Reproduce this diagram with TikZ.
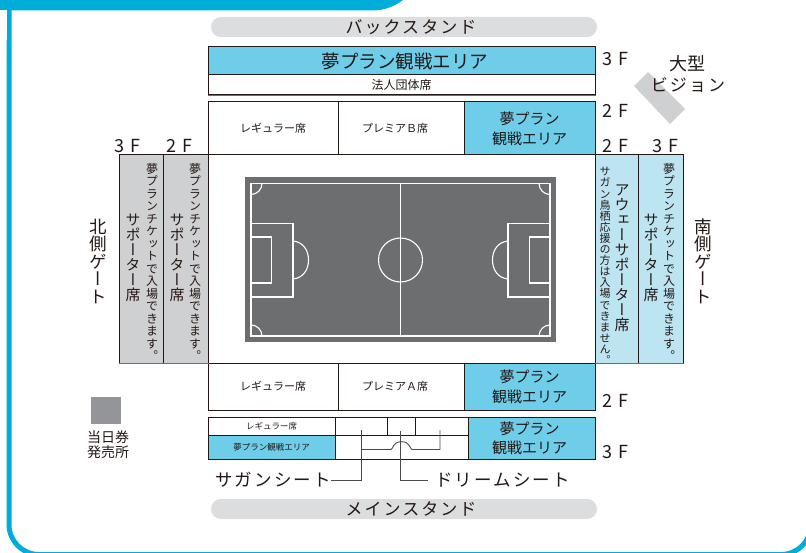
\documentclass[tikz,border=0pt]{standalone}
\usepackage{fontspec}
\setmainfont{Noto Sans CJK JP}
\newfontfamily\vfont[RawFeature=+vert]{Noto Sans CJK JP}
\newfontfamily\wfont[LetterSpace=12]{Noto Sans CJK JP}
\newcommand\fs[1]{\fontsize{#1pt}{#1pt}\selectfont}
\def\vloop#1{\ifx#1\relax\else\hbox to 1em{\hss #1\hss}\expandafter\vloop\fi}
\newcommand\vtext[3]{\vbox{\fs{#1}\vfont\baselineskip=#2pt\lineskiplimit=-100pt\relax\vloop#3\relax}}
\definecolor{ink}{HTML}{231815}
\definecolor{frame}{HTML}{00ADD8}
\definecolor{plan}{HTML}{6ECDE9}
\definecolor{away}{HTML}{BDE4F1}
\definecolor{stand}{HTML}{CFD0D2}
\definecolor{pill}{HTML}{DCDDDE}
\definecolor{pitch}{HTML}{6D6E70}
\definecolor{booth}{HTML}{939598}
\definecolor{wire}{HTML}{4A4A4A}
\tikzset{
  seat/.style={draw=ink,line width=1pt,inner sep=0pt,align=center,text=ink},
  label/.style={inner sep=0pt,align=center,text=ink},
  fline/.style={draw=white,line width=1.1pt},
  wireline/.style={draw=wire,line width=.9pt},
  edgeline/.style={draw=pitch,line width=1.6pt},
}
\begin{document}
\begin{tikzpicture}[x=1pt,y=-1pt,font=\fs{12}]
\useasboundingbox (0,0) rectangle (806,553);
\begin{scope}
\clip (0,0) rectangle (806,553);
\draw[frame,line width=5pt,rounded corners=30pt] (9,-40) -- (9,554.5) -- (811,554.5) -- (811,-40);
\fill[frame] (0,0) -- (403,0) .. controls (395,6) and (385,10.5) .. (372,10.5) -- (0,10.5) -- cycle;
\fill[white] (0,10.5) rectangle (6.5,40);
\end{scope}
% stand pills
\node[fill=pill,rounded corners=10pt,minimum width=386pt,minimum height=20pt,inner sep=0pt] (back) at (404,27) {};
\node[label] (backt) at (411,27) {\fs{17}\wfont バックスタンド};
\node[fill=pill,rounded corners=10pt,minimum width=386pt,minimum height=20pt,inner sep=0pt] (main) at (404,509) {};
\node[label] (maint) at (411,509) {\fs{17}\wfont メインスタンド};
% back stand 3F
\node[seat,fill=plan,minimum width=387pt,minimum height=28pt] (b3p) at (401.5,61) {\hspace*{7pt}\fs{18.5}夢プラン観戦エリア};
\node[seat,minimum width=387pt,minimum height=20pt] (b3h) at (401.5,85) {\fs{12}法人団体席};
\draw[edgeline] (b3h.south west) -- (b3h.south east);
% back stand 2F
\node[seat,minimum width=130pt,minimum height=53pt] (b2r) at (273,128.5) {\fs{11}レギュラー席};
\node[seat,minimum width=126pt,minimum height=53pt] (b2p) at (401,128.5) {\hspace*{-12pt}\fs{11}プレミアＢ席};
\node[seat,fill=plan,minimum width=131pt,minimum height=53pt] (b2y) at (529.5,128.5) {\fs{15}夢プラン\\[5pt]\fs{15}観戦エリア};
% centre box
\node[seat,minimum width=387pt,minimum height=208pt] (bowl) at (401.5,259) {};
% main stand 2F
\node[seat,minimum width=130pt,minimum height=47pt] (m2r) at (273,386.5) {\fs{11}レギュラー席};
\node[seat,minimum width=126pt,minimum height=47pt] (m2p) at (401,386.5) {\hspace*{-12pt}\fs{11}プレミアＡ席};
\node[seat,fill=plan,minimum width=131pt,minimum height=47pt] (m2y) at (529.5,386.5) {\fs{15}夢プラン\\[5pt]\fs{15}観戦エリア};
% main stand 3F
\node[seat,minimum width=127pt,minimum height=18pt] (m3r) at (271.5,426) {\fs{8.5}レギュラー席};
\node[seat,fill=plan,minimum width=127pt,minimum height=24pt] (m3p) at (271.5,447) {\fs{8.5}夢プラン観戦エリア};
\node[seat,minimum width=52pt,minimum height=18pt] (m3a) at (361,426) {};
\node[seat,minimum width=28pt,minimum height=18pt] (m3b) at (401,426) {};
\node[seat,minimum width=53pt,minimum height=18pt] (m3c) at (441.5,426) {};
\node[seat,minimum width=133pt,minimum height=24pt] (m3d) at (401.5,447) {};
\node[seat,fill=plan,minimum width=127pt,minimum height=42pt] (m3y) at (531.5,438) {\hspace*{-4pt}\fs{15}夢プラン\\[4pt]\hspace*{-4pt}\fs{15}観戦エリア};
% side stands
\node[seat,fill=stand,minimum width=44pt,minimum height=208pt] (n3) at (141,259) {};
\node[seat,fill=stand,minimum width=45pt,minimum height=208pt] (n2) at (185.5,259) {};
\node[seat,fill=away,minimum width=43pt,minimum height=208pt] (s2) at (616.5,259) {};
\node[seat,fill=away,minimum width=45pt,minimum height=208pt] (s3) at (660.5,259) {};
\draw[edgeline] (n3.south west) -- (n2.south east);
\draw[edgeline] (s2.south west) -- (s3.south east);
\node[label] (n3a) at (133,258) {\vtext{15}{15}{サポーター席}};
\node[label] (n3b) at (152,262) {\vtext{12}{12.5}{夢プランチケットで入場できます。}};
\node[label] (n2a) at (177,258) {\vtext{15}{15}{サポーター席}};
\node[label] (n2b) at (195,262) {\vtext{12}{12.5}{夢プランチケットで入場できます。}};
\node[label] (s2a) at (622,258) {\vtext{15}{15}{アウェーサポーター席}};
\node[label] (s2b) at (605,266) {\vtext{11}{11.1}{サガン鳥栖応援の方は入場できません。}};
\node[label] (s3a) at (651,258) {\vtext{15}{15}{サポーター席}};
\node[label] (s3b) at (669,262) {\vtext{12}{12.5}{夢プランチケットで入場できます。}};
\node[label] (ngate) at (98,261) {\vtext{17.5}{17.5}{北側ゲート}};
\node[label] (sgate) at (703,261) {\vtext{17.5}{17.5}{南側ゲート}};
% floor labels
\foreach \nm/\px/\py/\t in {fa/615/59/3\,\,F,fb/615/111/2\,\,F,fc/615/146/2\,\,F,fd/665/146/3\,\,F,fe/127.5/146/3\,\,F,ff/179/146/2\,\,F,fg/615/401/2\,\,F,fh/615/452/3\,\,F}
  \node[label] (\nm) at (\px,\py) {\fs{18}\t};
% pitch
\node[fill=pitch,minimum width=311pt,minimum height=165pt,inner sep=0pt] (field) at (400.5,259.5) {};
\draw[fline] (251,183.5) rectangle (550,336);
\draw[fline] (400.5,183.5) -- (400.5,336);
\draw[fline] (400.5,260) circle (22pt);
\draw[fline] (251,223.5) rectangle (293,297);
\draw[fline] (251,237) rectangle (271.5,283);
\draw[fline] (550,223.5) rectangle (508,297);
\draw[fline] (550,237) rectangle (529.5,283);
\draw[fline] (293,241) .. controls (303,242) and (308.5,250) .. (308.5,260) .. controls (308.5,270) and (303,278) .. (293,279);
\draw[fline] (508,241) .. controls (498,242) and (492.5,250) .. (492.5,260) .. controls (492.5,270) and (498,278) .. (508,279);
\draw[fline] (251,194.5) arc[start angle=-90,end angle=0,radius=11pt];
\draw[fline] (251,325) arc[start angle=90,end angle=0,radius=11pt];
\draw[fline] (550,194.5) arc[start angle=-90,end angle=-180,radius=11pt];
\draw[fline] (550,325) arc[start angle=90,end angle=180,radius=11pt];
% vision
\fill[stand] (648,72) -- (634,86) -- (670,124) -- (685,109) -- cycle;
\node[label] (vis1) at (687,64) {\fs{18}大型};
\node[label] (vis2) at (688,85) {\fs{17}\wfont ビジョン};
% ticket booth
\node[fill=booth,minimum width=30pt,minimum height=27pt,inner sep=0pt] (booth) at (106,410.5) {};
\node[label] (bootht) at (108,445) {\fs{14}当日券\\[1pt]\fs{14}発売所};
% seat callouts
\node[label,anchor=east] (sagan) at (331,480) {\fs{17.5}\wfont サガンシート};
\node[label,anchor=west,inner xsep=7pt] (dream) at (428,480) {\fs{17.5}\wfont ドリームシート};
\coordinate (sa) at (361,430);
\coordinate (sb) at (440,430);
\coordinate (da) at (400.5,431);
\draw[wireline] (sagan.east) -| (sa);
\draw[wireline] (361,449.5) -- (391,449.5) .. controls (393,449.5) and (392.5,441.7) .. (401.5,441.7) .. controls (410.5,441.7) and (410,449.5) .. (412,449.5) -- (440,449.5) -- (sb);
\draw[wireline] (da) |- (dream.west);
\end{tikzpicture}
\end{document}
